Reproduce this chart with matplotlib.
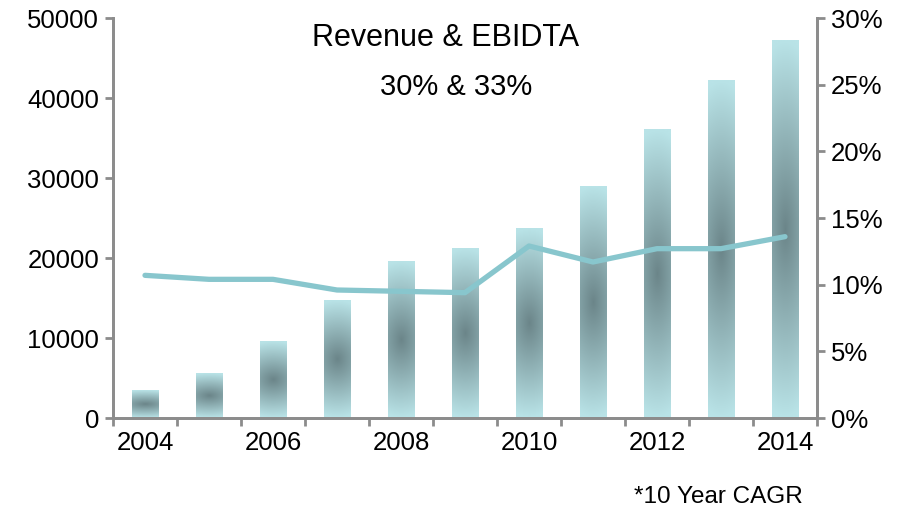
import numpy as np
import matplotlib.pyplot as plt
from matplotlib.colors import to_rgb

plt.rcParams['font.family'] = ['Liberation Sans', 'DejaVu Sans']

years = [2004, 2005, 2006, 2007, 2008, 2009, 2010, 2011, 2012, 2013, 2014]
revenue = [3500, 5600, 9600, 14750, 19600, 21250, 23750, 28900, 36100, 42250, 47250]
margin = [10.7, 10.4, 10.4, 9.6, 9.5, 9.4, 12.9, 11.7, 12.7, 12.7, 13.6]
tick_labels = ['2004', '', '2006', '', '2008', '', '2010', '', '2012', '', '2014']

dark = np.array(to_rgb('#6b8589'))
light = np.array(to_rgb('#b9e3e7'))
axis_col = '#8c8c8c'

fig = plt.figure(figsize=(9.02, 5.12), dpi=100)
ax = fig.add_axes([113/902, 94/512, 704/902, 400/512])
ax2 = ax.twinx()

x = np.arange(len(years))
w = 0.42

# gradient filled bars: dark in the middle, light at top and bottom
ny, nx = 200, 40
gy, gx = np.mgrid[-1:1:ny*1j, -1:1:nx*1j]
for xi, h in zip(x, revenue):
    d = np.sqrt(gy**2 + 0.08*gx**2)
    d = np.clip(d, 0, 1)
    img = dark[None, None, :]*(1-d[..., None]) + light[None, None, :]*d[..., None]
    ax.imshow(img, extent=[xi-w/2, xi+w/2, 0, h], aspect='auto',
              interpolation='bilinear', zorder=2)

ax.set_xlim(-0.5, len(years)-0.5)
ax.set_ylim(0, 50000)
ax.set_yticks(np.arange(0, 50001, 10000))
ax.set_xticks(x)
ax.set_xticklabels(tick_labels)
ax.set_xticks(np.arange(-0.5, len(years), 1), minor=True)
ax.tick_params(axis='x', which='major', length=0, pad=9)
ax.tick_params(axis='x', which='minor', length=6, width=2, color=axis_col)

ax2.plot(x, margin, color='#88c6cd', lw=3.8, solid_capstyle='round',
         solid_joinstyle='round', zorder=3)
ax2.set_ylim(0, 30)
ax2.set_yticks(np.arange(0, 31, 5))
ax2.set_yticklabels([f'{v}%' for v in range(0, 31, 5)])

for a in (ax, ax2):
    a.spines['top'].set_visible(False)
    for s in ('left', 'right', 'bottom'):
        a.spines[s].set_color(axis_col)
        a.spines[s].set_linewidth(2)
    a.tick_params(axis='y', length=6, width=2, color=axis_col, labelsize=18.5, pad=4)
ax.tick_params(axis='x', labelsize=18.5)
ax.patch.set_visible(False)

fig.text(446/902, 1-38/512, 'Revenue & EBIDTA', ha='center', va='center', fontsize=22)
fig.text(456/902, 1-87/512, '30% & 33%', ha='center', va='center', fontsize=21)
fig.text(718/902, 1-497/512, '*10 Year CAGR', ha='center', va='center', fontsize=17.5)

fig.savefig('out.png', dpi=100)
